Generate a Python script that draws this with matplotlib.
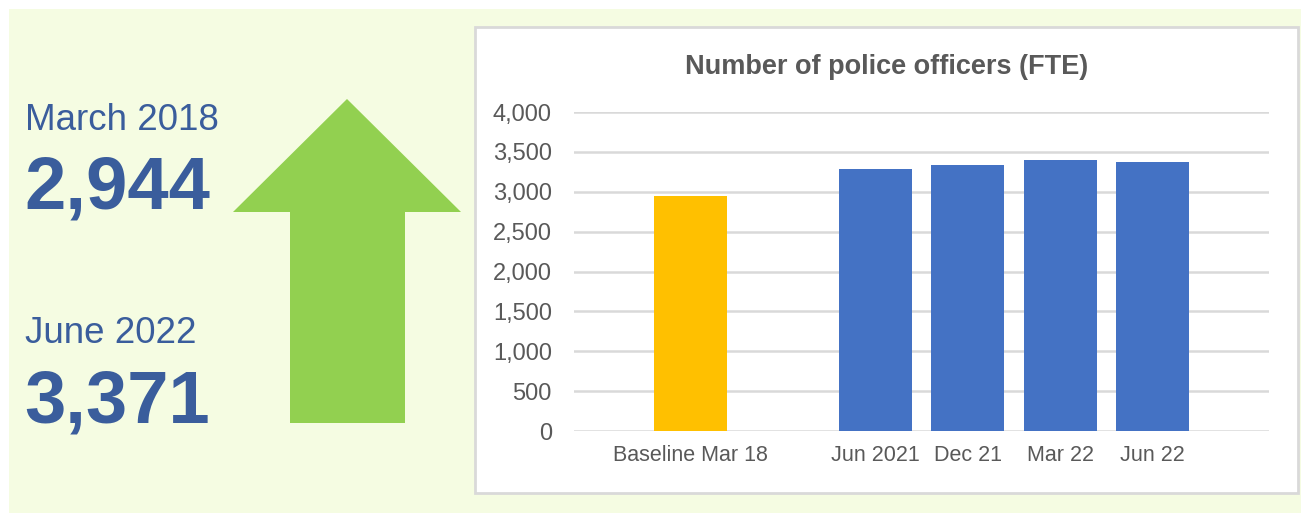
import numpy as np
import matplotlib.pyplot as plt
from matplotlib.patches import Rectangle, Polygon

# data
categories = ['Baseline Mar 18', '', 'Jun 2021', 'Dec 21', 'Mar 22', 'Jun 22']
officers = [2944, 0, 3280, 3330, 3392, 3371]
bar_colours = ['#FFC000', 'none', '#4472C4', '#4472C4', '#4472C4', '#4472C4']
yticks = [0, 500, 1000, 1500, 2000, 2500, 3000, 3500, 4000]
headline_labels = ['March 2018', 'June 2022']
headline_values = ['2,944', '3,371']

plt.rcParams['font.family'] = ['Liberation Sans', 'DejaVu Sans']

W, H = 1301, 513
fig = plt.figure(figsize=(W / 100, H / 100), dpi=100)
fig.patch.set_facecolor('white')

# background layer in pixel coordinates
bg = fig.add_axes([0, 0, 1, 1])
bg.set_xlim(0, W)
bg.set_ylim(H, 0)
bg.axis('off')
bg.add_patch(Rectangle((9, 9), W - 9, H - 9, facecolor='#F5FCE2', edgecolor='none'))

# green arrow
arrow = [(347, 99), (461, 212), (405, 212), (405, 423), (290, 423), (290, 212), (233, 212)]
bg.add_patch(Polygon(arrow, closed=True, facecolor='#92D050', edgecolor='none'))

# chart box
bg.add_patch(Rectangle((475, 27), 823, 466, facecolor='white', edgecolor='#D9D9D9', lw=2))

# headline numbers
blue = '#3A5D9C'
bg.text(25, 130, headline_labels[0], fontsize=26.5, color=blue, va='baseline', ha='left')
bg.text(24, 208, headline_values[0], fontsize=53.5, color=blue, va='baseline', ha='left', fontweight='bold')
bg.text(25, 343, headline_labels[1], fontsize=26.5, color=blue, va='baseline', ha='left')
bg.text(24, 422, headline_values[1], fontsize=53.5, color=blue, va='baseline', ha='left', fontweight='bold')

bg.text(887, 74, 'Number of police officers (FTE)', fontsize=19.5, color='#595959',
        fontweight='bold', va='baseline', ha='center')

# bar chart
ax = fig.add_axes([574 / W, (H - 431) / H, 695 / W, 319 / H])
ax.set_facecolor('none')
x = np.arange(len(categories))
ax.bar(x, officers, width=0.79, color=bar_colours, zorder=3)
ax.set_xlim(-1.26, len(categories) - 1 + 1.26)
ax.set_ylim(0, 4000)
ax.set_yticks(yticks)
ax.set_yticklabels([f'{v:,}' for v in yticks])
ax.set_xticks(x)
ax.set_xticklabels(categories)
ax.grid(axis='y', color='#D9D9D9', lw=1.8, zorder=0)
for s in ax.spines.values():
    s.set_visible(False)
ax.tick_params(axis='both', length=0, labelcolor='#595959')
ax.tick_params(axis='y', pad=16, labelsize=17)
ax.tick_params(axis='x', pad=10, labelsize=15.5)

fig.savefig('out.png', dpi=100)
